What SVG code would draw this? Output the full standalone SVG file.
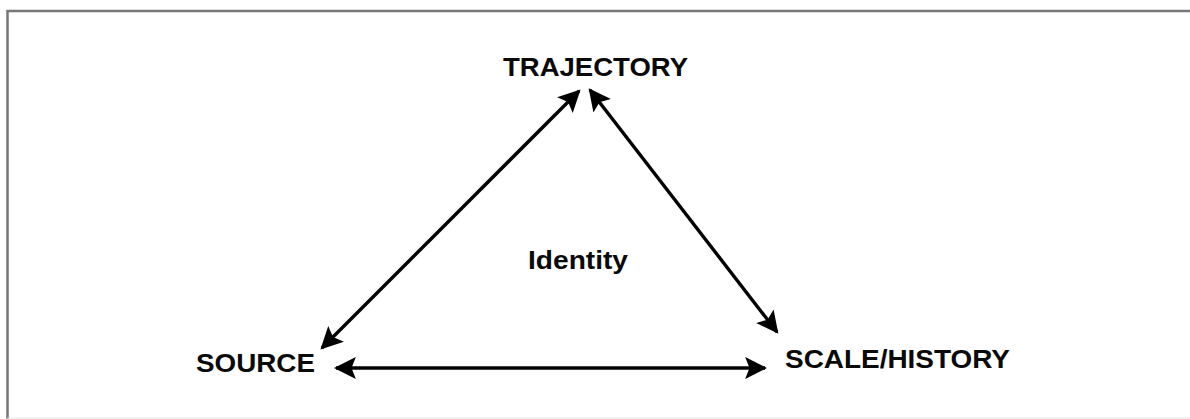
<svg xmlns="http://www.w3.org/2000/svg" width="1190" height="419" viewBox="0 0 1190 419">
  <defs>
    <marker id="head" viewBox="0 0 10 10" refX="9" refY="5" markerWidth="6.5" markerHeight="6.5" markerUnits="strokeWidth" orient="auto-start-reverse">
      <path d="M0,0 L10,5 L0,10 L2,5 Z" fill="#000"/>
    </marker>
    <style>
      .lbl { font-family: "Liberation Sans", Arial, sans-serif; font-weight: bold; fill: #0a0a0a; }
      .edge { stroke: #000; stroke-width: 3.4; fill: none; marker-start: url(#head); marker-end: url(#head); }
    </style>
  </defs>
  <rect width="1190" height="419" fill="#fff"/>
  <!-- frame -->
  <path d="M7.5,419 V11 H1190" fill="none" stroke="#777" stroke-width="2.5"/>
  <line x1="7" y1="418" x2="1190" y2="418" stroke="#e6e6e6" stroke-width="1"/>

  <g id="connectors">
    <line class="edge" x1="322" y1="348" x2="579" y2="91"/>
    <line class="edge" x1="590" y1="90" x2="777" y2="332"/>
    <line class="edge" x1="336" y1="368" x2="765" y2="368"/>
  </g>

  <g id="trajectory"><text class="lbl" x="503" y="76" font-size="26" textLength="185" lengthAdjust="spacingAndGlyphs">TRAJECTORY</text></g>
  <g id="source"><text class="lbl" x="196" y="372" font-size="26" textLength="119" lengthAdjust="spacingAndGlyphs">SOURCE</text></g>
  <g id="scale-history"><text class="lbl" x="785" y="368" font-size="26" textLength="225" lengthAdjust="spacingAndGlyphs">SCALE/HISTORY</text></g>
  <g id="identity"><text class="lbl" x="528" y="269" font-size="25" textLength="100" lengthAdjust="spacingAndGlyphs">Identity</text></g>
</svg>
